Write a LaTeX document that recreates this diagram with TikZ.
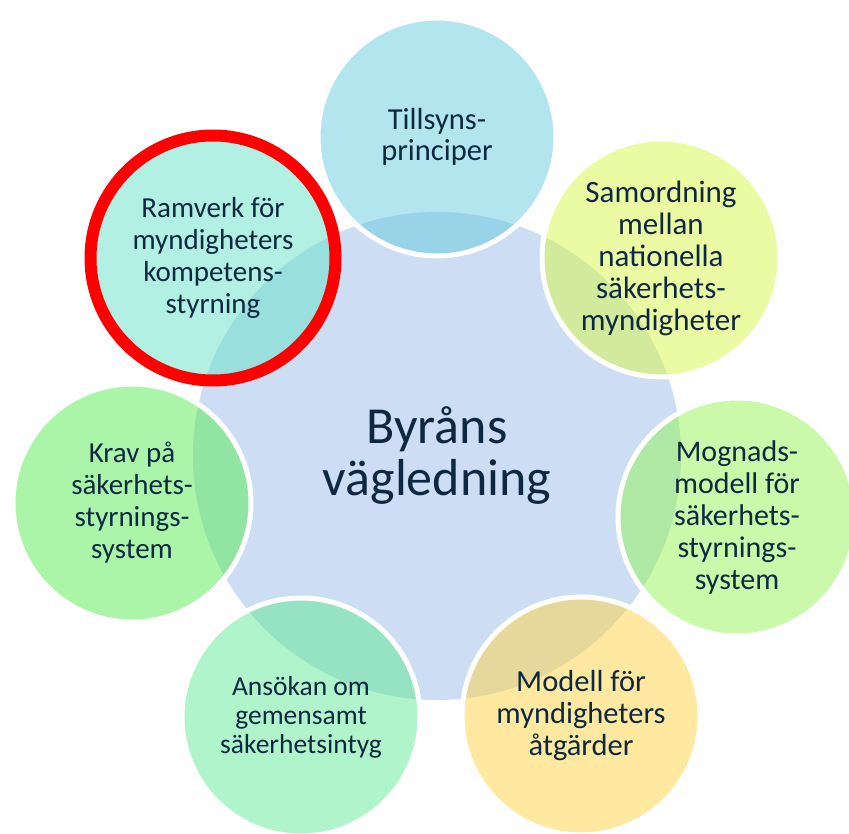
\documentclass[tikz,border=0pt]{standalone}
\usepackage{fontspec}
\setmainfont{Carlito}

\definecolor{hubblue}{HTML}{CDDDF3}
\definecolor{textnavy}{HTML}{0E2841}
\definecolor{supervisioncol}{RGB}{103,203,223}
\definecolor{frameworkcol}{RGB}{101,225,201}
\definecolor{coordinationcol}{RGB}{215,247,71}
\definecolor{maturitycol}{RGB}{147,243,83}
\definecolor{measurescol}{RGB}{255,211,67}
\definecolor{applicationcol}{RGB}{95,233,149}
\definecolor{requirementscol}{RGB}{87,235,83}

\begin{document}
\begin{tikzpicture}[
  x=1pt, y=-1pt,
  every node/.style={text=textnavy},
  hub/.style={circle, fill=hubblue, minimum size=488pt, inner sep=0pt, align=center, font=\fontsize{52}{52}\selectfont},
  topic/.style={circle, draw=white, line width=5pt, fill opacity=0.5, text opacity=1, minimum size=238pt, inner sep=0pt, align=center, font=\fontsize{29}{32}\selectfont},
  focus/.style={topic, draw=red, line width=12pt, minimum size=245pt}
]
  \clip (0,0) rectangle (849,834);

  \node[hub]                          (guidance)     at (437,456) {Byråns\\vägledning};

  \node[topic, fill=supervisioncol, font=\fontsize{30.5}{31}\selectfont]
                                      (supervision)  at (437,137) {Tillsyns-\\principer};
  \node[topic, fill=coordinationcol, font=\fontsize{31}{32}\selectfont]
                                      (coordination) at (661,258) {Samordning\\mellan\\nationella\\säkerhets-\\myndigheter};
  \node[topic, fill=maturitycol, font=\fontsize{30}{32}\selectfont]
                                      (maturity)     at (737,517) {Mognads-\\modell för\\säkerhets-\\styrnings-\\system};
  \node[topic, fill=measurescol, font=\fontsize{30.5}{32}\selectfont]
                                      (measures)     at (581,716) {Modell för\\myndigheters\\åtgärder};
  \node[topic, fill=applicationcol, font=\fontsize{27.5}{29}\selectfont]
                                      (application)  at (301,717) {Ansökan om\\gemensamt\\säkerhetsintyg};
  \node[topic, fill=requirementscol]  (requirements) at (132,503) {Krav på\\säkerhets-\\styrnings-\\system};
  \node[focus, fill=frameworkcol]     (framework)    at (213,258) {Ramverk för\\myndigheters\\kompetens-\\styrning};
\end{tikzpicture}
\end{document}
